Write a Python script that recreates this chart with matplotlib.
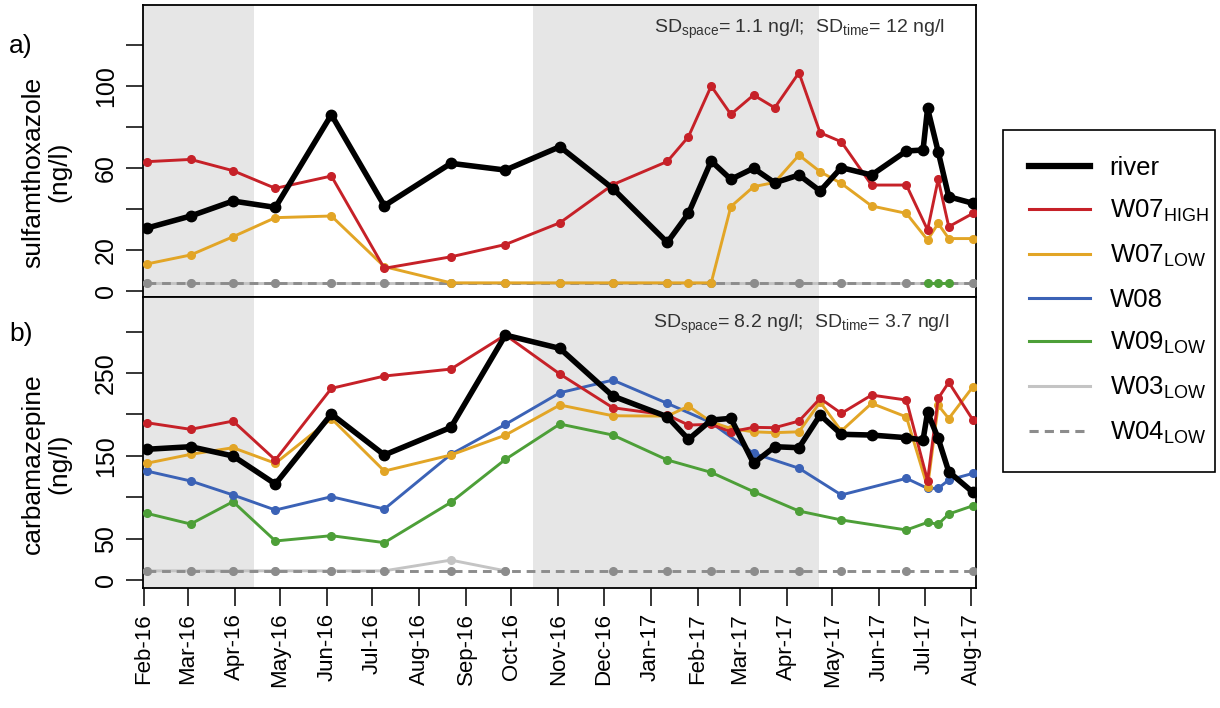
import numpy as np
import pandas as pd
import matplotlib
matplotlib.use("Agg")
import matplotlib.pyplot as plt
import matplotlib.dates as mdates
from matplotlib.lines import Line2D
from matplotlib.patches import Rectangle

plt.rcParams['font.family'] = ['Liberation Sans', 'DejaVu Sans']
plt.rcParams['mathtext.default'] = 'regular'

# sampling dates (all sites share this calendar, gaps are None)
dates = pd.to_datetime([
    '2016-02-03', '2016-03-03', '2016-03-31', '2016-04-28', '2016-06-04',
    '2016-07-09', '2016-08-22', '2016-09-27', '2016-11-02', '2016-12-07',
    '2017-01-12', '2017-01-26', '2017-02-10', '2017-02-23', '2017-03-10',
    '2017-03-24', '2017-04-09', '2017-04-23', '2017-05-07', '2017-05-27',
    '2017-06-19', '2017-06-30', '2017-07-03', '2017-07-10', '2017-07-17',
    '2017-08-02'])

# cold season shading
seasons = [('2015-10-15', '2016-04-14'), ('2016-10-15', '2017-04-22')]

# a) sulfamethoxazole (ng/l)
smx_river = [30.7, 36.6, 43.9, 40.8, 86, 41.6, 62.3, 59, 70.4, 50,
             23.7, 37.9, 63.4, 54.5, 59.9, 52.8, 56.6, 48.8, 60.2, 56.6,
             68.3, 68.8, 89.1, 68, 46, 42.8]
smx_w07high = [63.1, 64.2, 58.7, 50.1, 56.1, 11.1, 16.7, 22.7, 33.3, 51.9,
               63.2, 75.3, 100, 86.2, 95.6, 89.4, 106.5, 77.2, 72.8, 51.7,
               51.7, None, 29.8, 54.5, 31.4, 37.9]
smx_w07low = [13.2, 17.6, 26.5, 35.8, 36.6, 11.9, 4, 4, 4, 4,
              4, 4, 4, 41.2, 50.9, 53, 66.3, 58.2, 52.5, 41.5,
              37.9, None, 24.9, 33, 25.6, 25.6]
smx_w09low = [None] * 22 + [4, 4, 4, None]
smx_w03low = [4, 4, 4, 4, 4, 4, 4, 4, 4, 4,
              4, None, 4, None, 4, None, 4, None, 4, None,
              4, None, None, None, None, 4]
smx_w04low = smx_w03low

# b) carbamazepine (ng/l)
cbz_river = [157.9, 161, 149.8, 115.9, 200.5, 151, 184.4, 295.9, 279.8, 222.2,
             197.2, 169.9, 193.2, 195.3, 141, 161, 159.8, 199.3, 176, 175.1,
             171.9, 169.1, 202.5, 171.1, 130.8, 105.9]
cbz_w07high = [190, 182, 192, 145, 231.5, 246.4, 254.8, 296, 248.8, 208.1,
               199.3, 187.2, 188, 179, 184.4, 184, 192, 219.4, 201.3, 223.4,
               217.4, None, 120, 219.4, 238.8, 193.2]
cbz_w07low = [141, 151.8, 159.8, 141, 195, 131.6, 151, 175, 211.4, 198.4,
              198, 210, 191, 183, 179, 178, 179, 215, 180, 213.4,
              197, None, 112, 211, 195, 233.5]
cbz_w08 = [131.6, 119.6, 102.7, 84.5, 100.6, 85.7, 151.8, 188, 226.2, 241.5,
           213.4, None, 190, None, 153, None, 135, None, 102.7, None,
           122.8, None, 110.7, 110.7, 120.8, 128.8]
cbz_w09low = [80.5, 67.6, 94.6, 47.1, 53.5, 45.1, 93.8, 145.7, 188.4, 175.1,
              145, None, 130, None, 106.7, None, 83.3, None, 72.5, None,
              60.4, None, 69.6, 67.3, 79.7, 89.7]
cbz_w03low = [11, 11, 11, 11, 11, 11, 24, 11] + [None] * 18
cbz_w04low = [11, 11, 11, 11, 11, 11, 11, 11, None, 11,
              11, None, 11, None, 11, None, 11, None, 11, None,
              11, None, None, None, None, 11]

c_river = 'black'
c_high = '#c62128'
c_low = '#e2a526'
c_w08 = '#3b62b6'
c_w09 = '#4d9f38'
c_w03 = '#c4c4c4'
c_w04 = '#8c8c8c'
shade = '#e6e6e6'

fig = plt.figure(figsize=(12.2, 7.08), dpi=100)
ax1 = fig.add_axes([0.1172, 0.5805, 0.6828, 0.4124])
ax2 = fig.add_axes([0.1172, 0.1695, 0.6828, 0.4110])


def draw(ax, vals, color, lw=2.1, ms=5.5, ls='-', z=3):
    v = np.array(vals, dtype=float)
    ok = ~np.isnan(v)
    ax.plot(dates[ok], v[ok], color=color, lw=lw, ls=ls, marker='o', ms=ms,
            mfc=color, mec=color, zorder=z)


for ax in (ax1, ax2):
    for start, end in seasons:
        ax.axvspan(pd.Timestamp(start), pd.Timestamp(end), color=shade, lw=0, zorder=0)

draw(ax1, smx_w03low, c_w03)
draw(ax1, smx_w04low, c_w04, ls=(0, (3, 2)))
draw(ax1, smx_w09low, c_w09)
draw(ax1, smx_w07low, c_low)
draw(ax1, smx_w07high, c_high)
draw(ax1, smx_river, c_river, lw=4, ms=7.5, z=4)

draw(ax2, cbz_w03low, c_w03)
draw(ax2, cbz_w04low, c_w04, ls=(0, (3, 2)))
draw(ax2, cbz_w09low, c_w09)
draw(ax2, cbz_w08, c_w08)
draw(ax2, cbz_w07low, c_low)
draw(ax2, cbz_w07high, c_high)
draw(ax2, cbz_river, c_river, lw=4, ms=7.5, z=4)

xmin, xmax = pd.Timestamp('2016-01-31 12:00'), pd.Timestamp('2017-08-04')
for ax in (ax1, ax2):
    ax.set_xlim(xmin, xmax)
    for sp in ax.spines.values():
        sp.set_linewidth(1.3)
    ax.tick_params(axis='y', direction='out', length=12, width=1.1,
                   labelsize=18, pad=6)

ax1.set_ylim(-2.9, 139.5)
ax1.set_yticks([0, 20, 40, 60, 80, 100, 120])
ax1.set_yticklabels(['0', '20', '', '60', '', '100', ''])
ax1.tick_params(axis='x', bottom=False, labelbottom=False)

ax2.set_ylim(-9.7, 341.9)
ax2.set_yticks([0, 50, 100, 150, 200, 250, 300])
ax2.set_yticklabels(['0', '50', '', '150', '', '250', ''])
ax2.xaxis.set_major_locator(mdates.MonthLocator())
ax2.xaxis.set_major_formatter(mdates.DateFormatter('%b-%y'))
ax2.tick_params(axis='x', direction='out', length=13, width=1.1,
                labelsize=16, labelrotation=90, pad=5)

for ax in (ax1, ax2):
    for lab in ax.get_yticklabels():
        lab.set_rotation(90)
        lab.set_va('center')

ax1.text(0.963, 0.915, r'SD$_{space}$= 1.1 ng/l;  SD$_{time}$= 12 ng/l',
         transform=ax1.transAxes, ha='right', va='center', fontsize=14, color='#333333')
ax2.text(0.968, 0.905, r'SD$_{space}$= 8.2 ng/l;  SD$_{time}$= 3.7 ng/l',
         transform=ax2.transAxes, ha='right', va='center', fontsize=14, color='#333333')

fig.text(46 / 1220, 1 - 172 / 708, 'sulfamthoxazole\n(ng/l)', rotation=90,
         ha='center', va='center', fontsize=19, linespacing=1.1, multialignment='center')
fig.text(46 / 1220, 1 - 464 / 708, 'carbamazepine\n(ng/l)', rotation=90,
         ha='center', va='center', fontsize=19, linespacing=1.1, multialignment='center')
fig.text(21 / 1220, 1 - 46 / 708, 'a)', ha='center', va='center', fontsize=19)
fig.text(21 / 1220, 1 - 334 / 708, 'b)', ha='center', va='center', fontsize=19)

handles = [Line2D([], [], color=c_river, lw=4.5),
           Line2D([], [], color=c_high, lw=2.2),
           Line2D([], [], color=c_low, lw=2.2),
           Line2D([], [], color=c_w08, lw=2.2),
           Line2D([], [], color=c_w09, lw=2.2),
           Line2D([], [], color=c_w03, lw=2.2),
           Line2D([], [], color=c_w04, lw=2.2, ls=(0, (3, 2)))]
labels = ['river', r'W07$_{HIGH}$', r'W07$_{LOW}$', 'W08', r'W09$_{LOW}$',
          r'W03$_{LOW}$', r'W04$_{LOW}$']
fig.legend(handles, labels, loc='upper left',
           bbox_to_anchor=(1003 / 1220, 1 - 130 / 708), fontsize=18.5,
           frameon=False, borderpad=1.0, handlelength=2.4,
           handletextpad=0.75, labelspacing=0.72, borderaxespad=0)
# legend frame drawn separately so it can be narrower than the text box
fig.patches.append(Rectangle((1003 / 1220, 1 - 472 / 708), 212 / 1220, 342 / 708,
                             transform=fig.transFigure, fill=False,
                             edgecolor='black', lw=1.2))

fig.savefig('out.png', dpi=100)
